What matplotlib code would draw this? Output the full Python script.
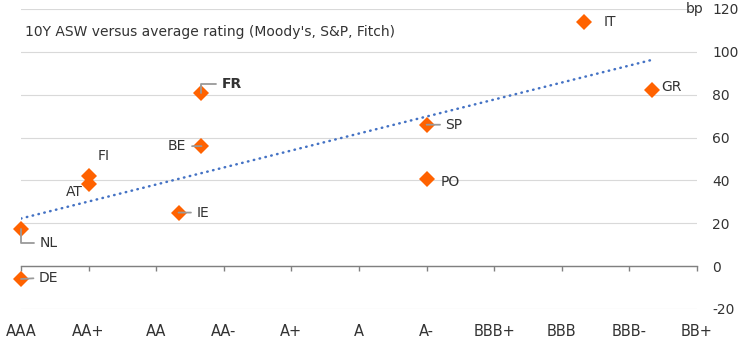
import numpy as np
import matplotlib
matplotlib.use('Agg')
import matplotlib.pyplot as plt

plt.rcParams['font.family'] = ['DejaVu Sans']
plt.rcParams['axes.unicode_minus'] = False

# ratings on the x axis (AAA = 0 ... BB+ = 10)
RATINGS = ['AAA', 'AA+', 'AA', 'AA-', 'A+', 'A', 'A-', 'BBB+', 'BBB', 'BBB-', 'BB+']

# countries: average rating (numeric) and 10Y ASW (bp)
COUNTRIES = ['DE', 'NL', 'AT', 'FI', 'IE', 'BE', 'FR', 'SP', 'PO', 'IT', 'GR']
RATING_NUM = [0, 0, 1, 1, 2.33, 2.67, 2.67, 6, 6, 8.33, 9.33]
ASW_BP = [-6, 17.5, 38.5, 42, 25, 56, 81, 66, 40.5, 114, 82]

Y_TICKS = [-20, 0, 20, 40, 60, 80, 100, 120]

ORANGE = '#FF6200'
BLUE = '#4472C4'
LEADER = '#9a9a9a'
TXT = '#333333'

# label placement: (dx px, dy px, ha, leader style)
LABEL_POS = {
    'DE': (18, 1, 'left', 'straight'),
    'NL': (19, -14, 'left', 'elbow'),
    'AT': (-6, -8, 'right', None),
    'FI': (9, 20, 'left', None),
    'IE': (18, 0, 'left', 'straight'),
    'BE': (-15, 0, 'right', 'straight'),
    'FR': (20, 9, 'left', 'elbow'),
    'SP': (19, 0, 'left', 'straight'),
    'PO': (14, -3, 'left', None),
    'IT': (20, 0, 'left', None),
    'GR': (10, 3, 'left', None),
}

fig = plt.figure(figsize=(7.41, 3.43), dpi=100)
ax = fig.add_axes([21 / 741, 1 - 309 / 343, 676 / 741, 300 / 343])

x = np.array(RATING_NUM)
y = np.array(ASW_BP)

# linear trend
slope, icpt = np.polyfit(x, y, 1)
xt = np.array([0, x.max()])
ax.plot(xt, slope * xt + icpt, color=BLUE, linewidth=1.8,
        linestyle=(0, (0.2, 2.2)), dash_capstyle='round', zorder=2)

ax.plot(x, y, linestyle='none', marker='D', markersize=8.5, color=ORANGE,
        markeredgewidth=0, clip_on=False, zorder=3)

for name, xi, yi in zip(COUNTRIES, x, y):
    dx, dy, ha, leader = LABEL_POS[name]
    weight = 'bold' if name == 'FR' else 'normal'
    props = None
    if leader == 'straight':
        props = dict(arrowstyle='-', color=LEADER, lw=1.3, shrinkB=0,
                     relpos=(0 if ha == 'left' else 1, 0.5))
    elif leader == 'elbow':
        props = dict(arrowstyle='-', color=LEADER, lw=1.3, shrinkB=0,
                     relpos=(0, 0.5),
                     connectionstyle='angle,angleA=0,angleB=90,rad=0')
    ax.annotate(name, (xi, yi), xytext=(dx, dy), textcoords='offset pixels',
                ha=ha, va='center', fontsize=10, color=TXT,
                fontweight=weight, arrowprops=props, zorder=4,
                annotation_clip=False)

ax.set_xlim(0, 10)
ax.set_ylim(-20, 120)

# y axis on the right
ax.yaxis.tick_right()
ax.set_yticks(Y_TICKS)
ax.tick_params(axis='y', length=0, pad=11, labelsize=10, labelcolor=TXT)
ax.grid(axis='y', color='#d9d9d9', linewidth=0.8)
ax.set_axisbelow(True)

for s in ['top', 'left', 'right']:
    ax.spines[s].set_visible(False)

# axis line with ticks at zero
ax.spines['bottom'].set_position(('data', 0))
ax.spines['bottom'].set_color('#808080')
ax.spines['bottom'].set_linewidth(1.0)
ax.set_xticks(range(len(RATINGS)))
ax.set_xticklabels([])
ax.tick_params(axis='x', direction='out', length=3.5, width=1.0,
               color='#808080')

# category labels at the bottom
sec = ax.secondary_xaxis(0.0)
sec.set_xticks(range(len(RATINGS)))
sec.set_xticklabels(RATINGS)
sec.tick_params(axis='x', length=0, pad=11, labelsize=10.5, labelcolor=TXT)
sec.spines['bottom'].set_visible(False)

ax.text(0.006, 0.923, "10Y ASW versus average rating (Moody's, S&P, Fitch)",
        transform=ax.transAxes, ha='left', va='center', fontsize=10,
        color=TXT)
ax.text(1.009, 1.0, 'bp', transform=ax.transAxes, ha='right', va='center',
        fontsize=10, color=TXT)

fig.savefig('out.png', dpi=100)
